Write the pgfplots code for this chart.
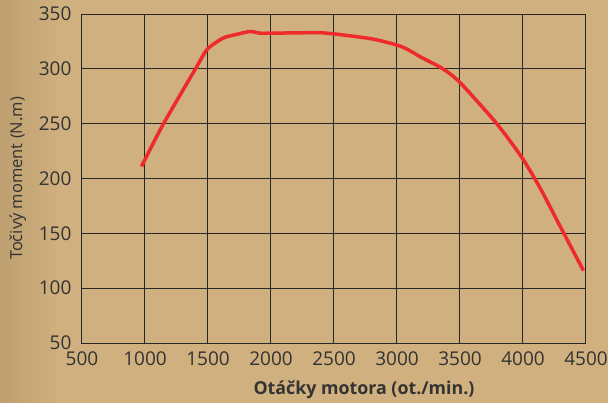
\documentclass[border=0pt]{standalone}
\usepackage{pgfplots}
\pgfplotsset{compat=1.18}
\usepackage{fontspec}
\setmainfont{Open Sans}
\definecolor{bg}{HTML}{D0B07E}
\definecolor{bgdark}{HTML}{BB9D6E}
\definecolor{txt}{HTML}{333333}
\definecolor{curve}{HTML}{EE2A2A}
\begin{document}
\begin{tikzpicture}[x=1pt,y=1pt]
\useasboundingbox (0,0) rectangle (608,402);
\fill[bg] (-3,-3) rectangle (611,405);
\shade[left color=bgdark, right color=bg, opacity=0.9] (-3,-3) rectangle (60,405);
\begin{axis}[
  at={(81pt,59pt)}, anchor=south west,
  width=504pt, height=329pt, scale only axis,
  xmin=500, xmax=4500, ymin=50, ymax=350,
  xtick={500,1000,...,4500}, ytick={50,100,...,350},
  grid=major,
  major grid style={black!85, line width=0.8pt},
  axis line style={black!85, line width=0.8pt},
  major tick length=0pt,
  tick label style={font=\fontsize{19}{21}\selectfont, text=txt},
  /pgf/number format/assume math mode=true,
  /pgf/number format/1000 sep={},
  xticklabel style={yshift=-5pt, xshift=1pt},
  yticklabel style={xshift=-6pt},
  xlabel={\bfseries Otáčky motora (ot./min.)},
  xlabel style={font=\fontsize{17.8}{20}\selectfont, text=txt, yshift=-8pt, xshift=31pt},
  ylabel={Točivý moment (N.m)},
  ylabel style={font=\fontsize{16.5}{18}\selectfont, text=txt, yshift=6pt},
]
\addplot[curve, line width=3.5pt, smooth, tension=0.4] coordinates {
(980,211) (1150,249) (1411,300.5) (1503,318) (1627,328) (1720,331) (1840,334)
(1920,332.5) (2000,332.5) (2400,333) (2500,332) (2800,327.5) (3000,322)
(3087,318) (3200,310.5) (3365,300.5) (3504,288) (3796,250.5) (4000,219)
(4150,190) (4300,157) (4488,116)
};
\end{axis}
\end{tikzpicture}
\end{document}
